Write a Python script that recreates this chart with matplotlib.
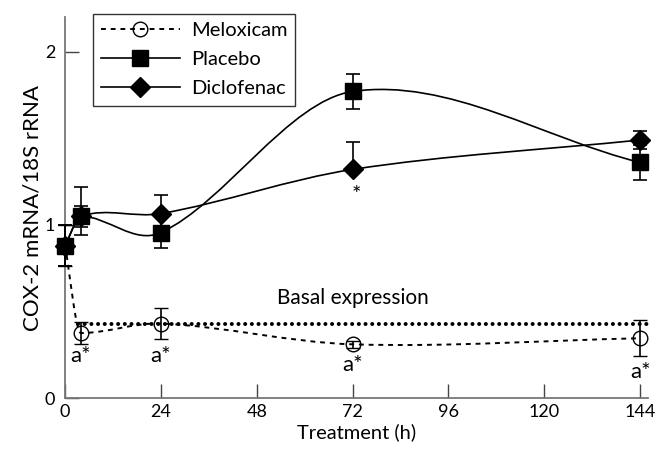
import matplotlib.pyplot as plt
from matplotlib.path import Path
from matplotlib.patches import PathPatch

plt.rcParams['font.family'] = ['Lato', 'DejaVu Sans']

hours = [0, 4, 24, 72, 144]

meloxicam = [0.88, 0.375, 0.43, 0.31, 0.345]
meloxicam_err = [0.12, 0.065, 0.09, 0.02, 0.105]

placebo = [0.88, 1.05, 0.955, 1.77, 1.36]
placebo_lo = [0.12, 0.11, 0.09, 0.10, 0.10]
placebo_hi = [0.12, 0.17, 0.09, 0.10, 0.10]

diclofenac = [0.88, 1.05, 1.065, 1.32, 1.49]
diclofenac_lo = [0.12, 0.06, 0.11, 0.0, 0.05]
diclofenac_hi = [0.12, 0.06, 0.11, 0.16, 0.05]

basal_level = 0.43

a_star_y = [0.24, 0.24, 0.19, 0.15]


def smooth_path(x, y, flat=()):
    # cubic hermite through the points, drawn as bezier segments
    n = len(x)
    m = []
    for i in range(n):
        if i in flat:
            m.append(0.0)
        elif i == 0:
            m.append((y[1] - y[0]) / (x[1] - x[0]))
        elif i == n - 1:
            m.append((y[-1] - y[-2]) / (x[-1] - x[-2]))
        else:
            m.append((y[i + 1] - y[i - 1]) / (x[i + 1] - x[i - 1]))
    verts = [(x[0], y[0])]
    codes = [Path.MOVETO]
    for i in range(n - 1):
        h = x[i + 1] - x[i]
        verts += [(x[i] + h / 3, y[i] + m[i] * h / 3),
                  (x[i + 1] - h / 3, y[i + 1] - m[i + 1] * h / 3),
                  (x[i + 1], y[i + 1])]
        codes += [Path.CURVE4] * 3
    return Path(verts, codes)


fig = plt.figure(figsize=(6.59, 4.53), dpi=100)
ax = fig.add_axes([0.0986, 0.1214, 0.885, 0.841])
ax.set_xlim(0, 146)
ax.set_ylim(0, 2.2)

# basal expression dotted level
ax.plot([3.3, 146], [basal_level, basal_level], color='black', lw=2.9,
        linestyle=(0, (0.01, 1.65)), dash_capstyle='round', zorder=2,
        clip_on=False)

ax.add_patch(PathPatch(smooth_path(hours, meloxicam, flat=(1,)), fill=False,
                       color='black', lw=1.4, linestyle=(0, (2.5, 2.5)), zorder=3))
ax.add_patch(PathPatch(smooth_path(hours, diclofenac), fill=False, color='black',
                       lw=1.2, zorder=3))
ax.add_patch(PathPatch(smooth_path(hours, placebo, flat=(1,)), fill=False,
                       color='black', lw=1.2, zorder=3))

ax.errorbar(hours, meloxicam, yerr=meloxicam_err, fmt='o', ms=10.5, mfc='none',
            mec='black', mew=1.0, ecolor='black', elinewidth=1.2, capsize=5,
            capthick=1.2, zorder=4, clip_on=False)
ax.errorbar(hours, diclofenac, yerr=[diclofenac_lo, diclofenac_hi], fmt='D',
            ms=10, color='black', elinewidth=1.2, capsize=5, capthick=1.2,
            zorder=5, clip_on=False)
ax.errorbar(hours, placebo, yerr=[placebo_lo, placebo_hi], fmt='s', ms=11,
            color='black', elinewidth=1.2, capsize=5, capthick=1.2, zorder=6,
            clip_on=False)

# legend proxies
ax.plot([], [], linestyle=(0, (2.5, 2.5)), color='black', lw=1.4, marker='o',
        ms=10.5, mfc='none', mec='black', label='Meloxicam')
ax.plot([], [], color='black', lw=1.2, marker='s', ms=11, label='Placebo')
ax.plot([], [], color='black', lw=1.2, marker='D', ms=10, label='Diclofenac')
leg = ax.legend(loc='upper left', bbox_to_anchor=(0.048, 1.008), fontsize=14.5,
                frameon=True, fancybox=False, handlelength=3.9, borderpad=0.4,
                labelspacing=0.6, handletextpad=0.55, borderaxespad=0.0)
leg.get_frame().set_edgecolor('black')
leg.get_frame().set_linewidth(1.0)
leg.set_zorder(10)

ax.text(72, 0.58, 'Basal expression', ha='center', va='center', fontsize=15)
for hx, ty in zip(hours[1:], a_star_y):
    ax.text(hx, ty, 'a*', ha='center', va='center', fontsize=16)
ax.text(73, 1.17, '*', ha='center', va='center', fontsize=16)

for side in ['top', 'right']:
    ax.spines[side].set_visible(False)
for side in ['left', 'bottom']:
    ax.spines[side].set_color('#777777')
    ax.spines[side].set_linewidth(1.3)

ax.set_xticks([0, 24, 48, 72, 96, 120, 144])
ax.set_yticks([0, 1, 2])
ax.tick_params(axis='both', direction='in', length=10, width=1.0,
               color='#444444', labelsize=13)
ax.tick_params(axis='x', pad=4)
ax.tick_params(axis='y', pad=7)

ax.set_xlabel('Treatment (h)', fontsize=14.5, labelpad=3)
ax.set_ylabel('COX-2 mRNA/18S rRNA', fontsize=16, labelpad=2)

fig.savefig('out.png', dpi=100)
